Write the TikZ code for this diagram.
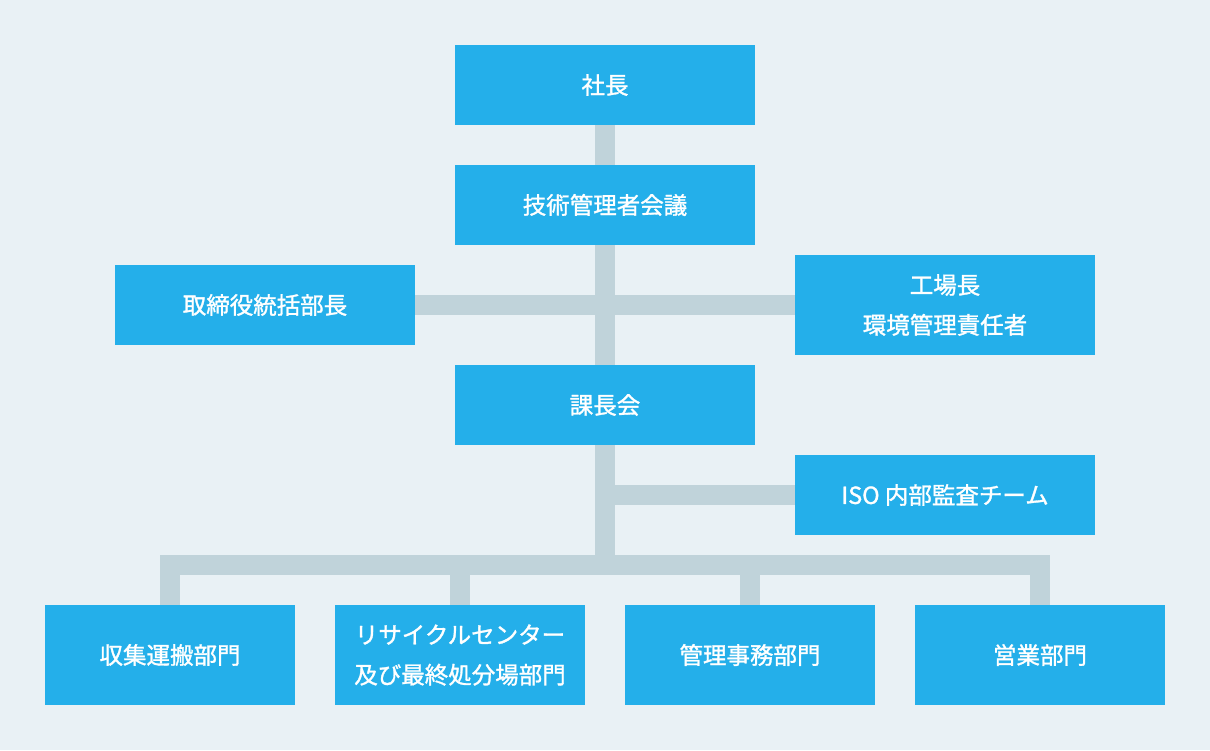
\documentclass[tikz,border=0pt]{standalone}
\usepackage{fontspec}
\setmainfont{Noto Sans CJK JP}[BoldFont={Noto Sans CJK JP},BoldFeatures={FakeBold=1.3}]
\definecolor{bg}{HTML}{E9F1F5}
\definecolor{boxc}{HTML}{24AFEA}
\definecolor{linec}{HTML}{C0D3DA}
\begin{document}
\begin{tikzpicture}[x=1pt,y=-1pt,
  box/.style={fill=boxc,draw=none,minimum width=300pt,minimum height=80pt,inner sep=0pt,
    text=white,font=\fontsize{23.5}{40}\selectfont\bfseries,align=center},
  sbox/.style={box,minimum width=250pt,minimum height=100pt},
  conn/.style={draw=linec,line width=20pt,line cap=butt,line join=miter}]
\fill[bg] (0,0) rectangle (1210,750);
\useasboundingbox (0,0) rectangle (1210,750);
\coordinate (split) at (605,565);
\node[box] (shacho) at (605,85) {社長};
\node[box] (gijutsu) at (605,205) {技術管理者会議};
\node[box] (tori) at (265,305) {取締役統括部長};
\node[box,minimum height=100pt] (kojo) at (945,305) {工場長\\環境管理責任者};
\node[box] (kacho) at (605,405) {課長会};
\node[box] (iso) at (945,495) {ISO 内部監査チーム};
\node[sbox] (b1) at (170,655) {収集運搬部門};
\node[sbox] (b2) at (460,655) {リサイクルセンター\\及び最終処分場部門};
\node[sbox] (b3) at (750,655) {管理事務部門};
\node[sbox] (b4) at (1040,655) {営業部門};
\draw[conn] (shacho.south) -- (gijutsu.north);
\draw[conn] (gijutsu.south) -- (kacho.north);
\draw[conn] (tori.east) -- (kojo.west);
\draw[conn] (kacho.south) -- (split);
\draw[conn] (split |- iso.west) -- (iso.west);
\draw[conn] (b1.north) |- (split) -| (b4.north);
\draw[conn] (b2.north) -- (b2.north |- split);
\draw[conn] (b3.north) -- (b3.north |- split);
\end{tikzpicture}
\end{document}
